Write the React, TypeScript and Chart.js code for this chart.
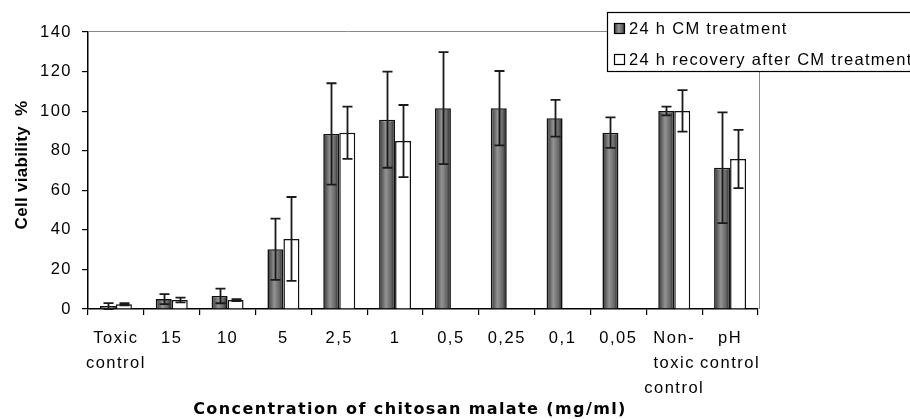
import React, { useEffect, useRef } from 'react';
import { Chart, registerables } from 'chart.js';

Chart.register(...registerables);

// ---------- data ----------
const categories: (string | string[])[] = [
  ['Toxic', 'control'], '15', '10', '5', '2,5', '1', '0,5', '0,25', '0,1', '0,05',
  ['Non-', 'toxic', 'control'], ['pH', 'control'],
];
const cmTreatment = [1.5, 5, 6.6, 30.2, 88.5, 95.7, 101.5, 101.5, 96.4, 89.1, 100.1, 71.4];
const cmTreatmentErr = [1.5, 2.5, 3.7, 15.5, 25.6, 24.3, 28.3, 18.8, 9.3, 7.7, 2.2, 28];
const recovery = [2.4, 4.5, 4.5, 35.4, 89.1, 84.9, null, null, null, null, 100.1, 75.8];
const recoveryErr = [0.5, 1.2, 0.5, 21.2, 13.2, 18.2, null, null, null, null, 10.5, 14.7];
const yTicks = [0, 20, 40, 60, 80, 100, 120, 140];
const seriesNames = ['24 h CM treatment', '24 h recovery after CM treatment'];
const xTitle = 'Concentration of chitosan malate (mg/ml)';
const yTitle = 'Cell viability  %';

const CAT_PCT = 0.573;
const TICK_SPACING = '1.5px';

function grayGradient(ctx: CanvasRenderingContext2D, x0: number, x1: number) {
  const g = ctx.createLinearGradient(x0, 0, x1, 0);
  g.addColorStop(0, '#262626');
  g.addColorStop(0.15, '#555555');
  g.addColorStop(0.42, '#939393');
  g.addColorStop(0.75, '#666666');
  g.addColorStop(1, '#1a1a1a');
  return g;
}

const decorPlugin = {
  id: 'decor',
  beforeUpdate(chart: any) { chart.ctx.letterSpacing = TICK_SPACING; },
  beforeLayout(chart: any) { chart.ctx.letterSpacing = TICK_SPACING; },
  beforeDraw(chart: any) { chart.ctx.letterSpacing = TICK_SPACING; },
  beforeDatasetsDraw(chart: any) {
    const { ctx, chartArea } = chart;
    ctx.save();
    ctx.strokeStyle = '#8a8a8a';
    ctx.lineWidth = 1;
    ctx.beginPath();
    ctx.moveTo(chartArea.left, 31.5);
    ctx.lineTo(607, 31.5);
    ctx.moveTo(chartArea.right + 1.5, 72);
    ctx.lineTo(chartArea.right + 1.5, chartArea.bottom);
    ctx.stroke();
    ctx.restore();
  },
  afterDatasetsDraw(chart: any) {
    const { ctx } = chart;
    const ys = chart.scales.y;
    const errs = [cmTreatmentErr, recoveryErr];
    const vals = [cmTreatment, recovery];
    ctx.save();
    ctx.strokeStyle = '#1a1a1a';
    ctx.lineWidth = 1.8;
    for (let d = 0; d < 2; d++) {
      const meta = chart.getDatasetMeta(d);
      meta.data.forEach((el: any, i: number) => {
        const v = vals[d][i];
        const e = errs[d][i];
        if (v == null || e == null) return;
        const x = Math.round(el.x) + 0.5;
        const yt = ys.getPixelForValue(v + e);
        const yb = ys.getPixelForValue(Math.max(0, v - e));
        ctx.beginPath();
        ctx.moveTo(x, yt);
        ctx.lineTo(x, yb);
        ctx.moveTo(x - 5, yt);
        ctx.lineTo(x + 5, yt);
        ctx.moveTo(x - 5, yb);
        ctx.lineTo(x + 5, yb);
        ctx.stroke();
      });
    }
    ctx.restore();
  },
  afterDraw(chart: any) {
    const { ctx } = chart;
    ctx.save();
    // legend box
    ctx.fillStyle = '#fff';
    ctx.fillRect(607, 12, 310, 60);
    ctx.strokeStyle = '#000';
    ctx.lineWidth = 1.2;
    ctx.strokeRect(607.5, 12.5, 310, 59);
    // legend swatches
    ctx.fillStyle = grayGradient(ctx, 614, 625);
    ctx.fillRect(614, 23, 11, 11);
    ctx.strokeRect(614.5, 23.5, 10, 10);
    ctx.fillStyle = '#fff';
    ctx.fillRect(614, 54, 11, 11);
    ctx.strokeRect(614.5, 54.5, 10, 10);
    ctx.fillStyle = '#000';
    ctx.font = '16.5px "Liberation Sans"';
    ctx.letterSpacing = '1.3px';
    ctx.textAlign = 'left';
    ctx.textBaseline = 'middle';
    ctx.fillText(seriesNames[0], 629, 29);
    ctx.fillText(seriesNames[1], 629, 60);
    // x title
    ctx.font = 'bold 16px "DejaVu Sans"';
    ctx.letterSpacing = '1.4px';
    ctx.textAlign = 'center';
    ctx.fillText(xTitle, 410, 410);
    // y title
    ctx.letterSpacing = '0.3px';
    ctx.translate(22, 165);
    ctx.rotate(-Math.PI / 2);
    ctx.font = 'bold 17px "Liberation Sans"';
    ctx.fillText(yTitle, 0, 0);
    ctx.restore();
  },
};

export default function App() {
  const ref = useRef<HTMLCanvasElement | null>(null);
  useEffect(() => {
    if (!ref.current) return;
    const chart = new Chart(ref.current, {
      type: 'bar',
      data: {
        labels: categories as any,
        datasets: [
          {
            label: seriesNames[0],
            data: cmTreatment,
            backgroundColor: (c: any) => {
              const ch = c.chart;
              const area = ch.chartArea;
              if (!area || c.dataIndex == null) return '#777';
              const catW = (area.right - area.left) / categories.length;
              const barW = (catW * CAT_PCT) / 2;
              const cx = ch.scales.x.getPixelForValue(c.dataIndex) - barW / 2;
              return grayGradient(ch.ctx, cx - barW / 2, cx + barW / 2);
            },
            borderColor: '#111',
            borderWidth: 1.6,
            categoryPercentage: CAT_PCT,
            barPercentage: 1,
          },
          {
            label: seriesNames[1],
            data: recovery as any,
            backgroundColor: '#ffffff',
            borderColor: '#111',
            borderWidth: 1.5,
            categoryPercentage: CAT_PCT,
            barPercentage: 1,
          },
        ],
      },
      options: {
        responsive: false,
        maintainAspectRatio: false,
        animation: false,
        devicePixelRatio: 1,
        layout: { padding: { top: 32, right: 152, left: 0, bottom: 0 } },
        plugins: { legend: { display: false }, tooltip: { enabled: false } },
        scales: {
          x: {
            offset: true,
            grid: { display: true, drawOnChartArea: false, drawTicks: true, tickLength: 6, color: '#000', offset: true, lineWidth: 1.2 },
            border: { color: '#000', width: 1.5 },
            ticks: {
              color: '#000',
              autoSkip: false,
              maxRotation: 0,
              minRotation: 0,
              padding: 11,
              font: { family: '"Liberation Sans"', size: 16.5, lineHeight: 1.52 },
            },
            afterFit: (s: any) => { s.height = 110; },
          },
          y: {
            min: 0,
            max: 140,
            afterBuildTicks: (s: any) => { s.ticks = yTicks.map((v) => ({ value: v })); },
            grid: { display: true, drawOnChartArea: false, drawTicks: true, tickLength: 6, color: '#000', lineWidth: 1.2 },
            border: { color: '#000', width: 1.5 },
            ticks: {
              color: '#000',
              padding: 10,
              font: { family: '"Liberation Sans"', size: 16.5 },
            },
            afterFit: (s: any) => { s.width = 88; },
          },
        },
      },
      plugins: [decorPlugin],
    });
    return () => chart.destroy();
  }, []);
  return (
    <div style={{ position: 'absolute', left: 0, top: 0, width: 910, height: 419, background: '#fff' }}>
      <canvas ref={ref} width={910} height={419} style={{ width: 910, height: 419, display: 'block' }} />
    </div>
  );
}
